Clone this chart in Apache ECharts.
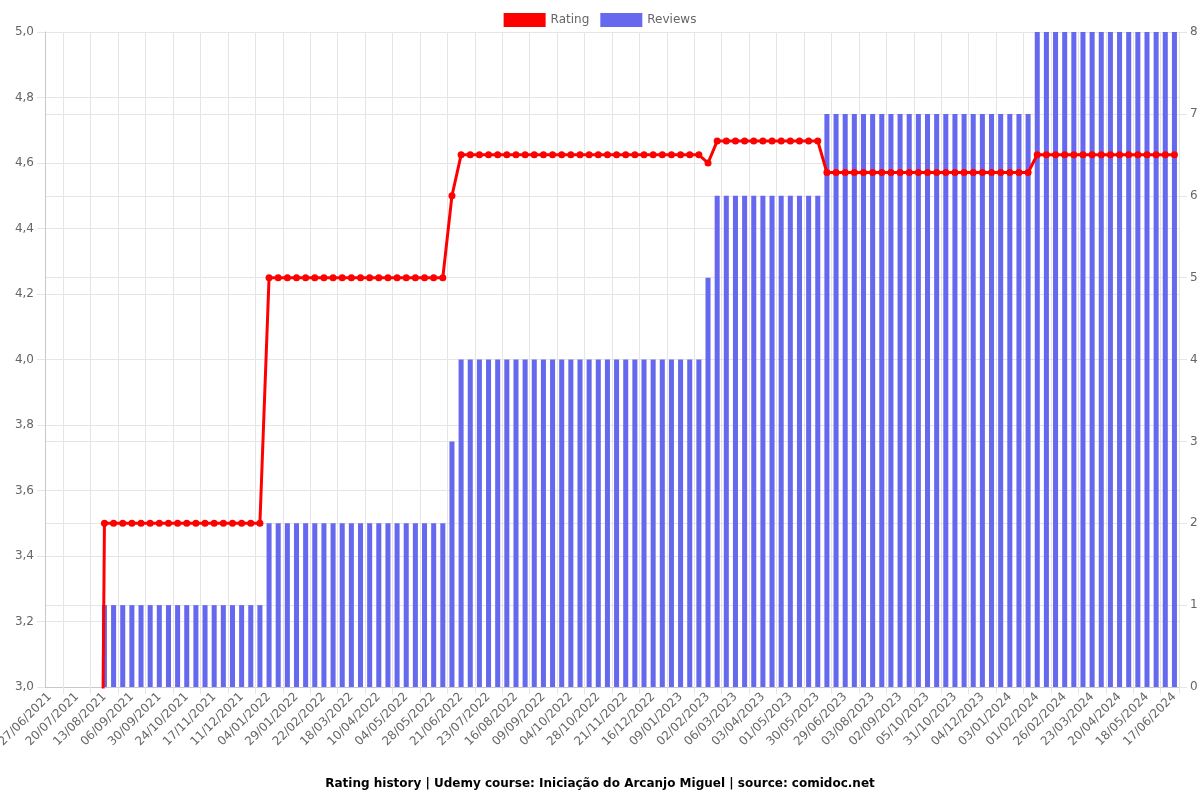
<!DOCTYPE html>
<html>
<head>
<meta charset="utf-8">
<script src="https://cdn.jsdelivr.net/npm/echarts@6/dist/echarts.min.js"></script>
<style>html,body{margin:0;padding:0;background:#fff}#c{width:1200px;height:800px}</style>
</head>
<body>
<div id="c"></div>
<script>
const dates = [
"27/06/2021","05/07/2021","12/07/2021","20/07/2021","28/07/2021","05/08/2021","13/08/2021","21/08/2021","29/08/2021","06/09/2021",
"14/09/2021","22/09/2021","30/09/2021","08/10/2021","16/10/2021","24/10/2021","01/11/2021","09/11/2021","17/11/2021","25/11/2021",
"03/12/2021","11/12/2021","19/12/2021","27/12/2021","04/01/2022","12/01/2022","21/01/2022","29/01/2022","06/02/2022","14/02/2022",
"22/02/2022","02/03/2022","10/03/2022","18/03/2022","26/03/2022","02/04/2022","10/04/2022","18/04/2022","26/04/2022","04/05/2022",
"12/05/2022","20/05/2022","28/05/2022","05/06/2022","13/06/2022","21/06/2022","01/07/2022","12/07/2022","23/07/2022","31/07/2022",
"08/08/2022","16/08/2022","24/08/2022","01/09/2022","09/09/2022","17/09/2022","26/09/2022","04/10/2022","12/10/2022","20/10/2022",
"28/10/2022","05/11/2022","13/11/2022","21/11/2022","29/11/2022","08/12/2022","16/12/2022","24/12/2022","01/01/2023","09/01/2023",
"17/01/2023","25/01/2023","02/02/2023","13/02/2023","24/02/2023","06/03/2023","15/03/2023","24/03/2023","03/04/2023","12/04/2023",
"21/04/2023","01/05/2023","10/05/2023","20/05/2023","30/05/2023","09/06/2023","19/06/2023","29/06/2023","11/07/2023","22/07/2023",
"03/08/2023","13/08/2023","23/08/2023","02/09/2023","13/09/2023","24/09/2023","05/10/2023","14/10/2023","22/10/2023","31/10/2023",
"11/11/2023","22/11/2023","04/12/2023","14/12/2023","24/12/2023","03/01/2024","13/01/2024","23/01/2024","01/02/2024","09/02/2024",
"17/02/2024","26/02/2024","05/03/2024","14/03/2024","23/03/2024","01/04/2024","10/04/2024","20/04/2024","29/04/2024","08/05/2024",
"18/05/2024","28/05/2024","07/06/2024","17/06/2024"
];

const rating = [
0,0,0,0,0,0,3.5,3.5,3.5,3.5,
3.5,3.5,3.5,3.5,3.5,3.5,3.5,3.5,3.5,3.5,
3.5,3.5,3.5,3.5,4.25,4.25,4.25,4.25,4.25,4.25,
4.25,4.25,4.25,4.25,4.25,4.25,4.25,4.25,4.25,4.25,
4.25,4.25,4.25,4.25,4.5,4.625,4.625,4.625,4.625,4.625,
4.625,4.625,4.625,4.625,4.625,4.625,4.625,4.625,4.625,4.625,
4.625,4.625,4.625,4.625,4.625,4.625,4.625,4.625,4.625,4.625,
4.625,4.625,4.6,4.667,4.667,4.667,4.667,4.667,4.667,4.667,
4.667,4.667,4.667,4.667,4.667,4.571,4.571,4.571,4.571,4.571,
4.571,4.571,4.571,4.571,4.571,4.571,4.571,4.571,4.571,4.571,
4.571,4.571,4.571,4.571,4.571,4.571,4.571,4.571,4.625,4.625,
4.625,4.625,4.625,4.625,4.625,4.625,4.625,4.625,4.625,4.625,
4.625,4.625,4.625,4.625
];

const reviews = [
0,0,0,0,0,0,1,1,1,1,
1,1,1,1,1,1,1,1,1,1,
1,1,1,1,2,2,2,2,2,2,
2,2,2,2,2,2,2,2,2,2,
2,2,2,2,3,4,4,4,4,4,
4,4,4,4,4,4,4,4,4,4,
4,4,4,4,4,4,4,4,4,4,
4,4,5,6,6,6,6,6,6,6,
6,6,6,6,6,7,7,7,7,7,
7,7,7,7,7,7,7,7,7,7,
7,7,7,7,7,7,7,7,8,8,
8,8,8,8,8,8,8,8,8,8,
8,8,8,8
];

const ratingTicks = { min: 3, max: 5, step: 0.2 };
const reviewTicks = { min: 0, max: 8, step: 1 };
const titleText = "Rating history | Udemy course: Iniciação do Arcanjo Miguel | source: comidoc.net";

const FONT = "DejaVu Sans";
const GRID = "#e5e5e5";
const RED = "#ff0000";
const BLUE = "#6669ee";

const chart = echarts.init(document.getElementById('c'), null, { renderer: 'canvas' });
chart.setOption({
  animation: false,
  textStyle: { fontFamily: FONT },
  title: {
    text: titleText,
    left: 'center',
    top: 773,
    textStyle: { fontFamily: FONT, fontSize: 12, fontWeight: 'bold', color: '#000' }
  },
  legend: {
    top: 8,
    left: 'center',
    itemWidth: 42,
    itemHeight: 14,
    itemGap: 11,
    textStyle: { fontFamily: FONT, fontSize: 12, color: '#666' },
    data: [
      { name: 'Rating', icon: 'rect', itemStyle: { color: RED } },
      { name: 'Reviews', icon: 'rect', itemStyle: { color: BLUE } }
    ]
  },
  grid: { left: 45, right: 21, top: 32, bottom: 113, containLabel: false, outerBoundsMode: 'none' },
  xAxis: {
    type: 'category',
    data: dates,
    boundaryGap: true,
    axisLine: { show: true, lineStyle: { color: '#c8c8c8' } },
    axisTick: { show: true, length: 7, interval: (i) => i % 3 === 2, lineStyle: { color: GRID } },
    splitLine: { show: true, interval: (i) => i % 3 === 2, lineStyle: { color: GRID } },
    axisLabel: {
      interval: 2,
      rotate: 45,
      margin: 8,
      fontSize: 12,
      color: '#666',
      fontFamily: FONT
    }
  },
  yAxis: [
    {
      type: 'value',
      position: 'left',
      min: ratingTicks.min,
      max: ratingTicks.max,
      interval: ratingTicks.step,
      axisLine: { show: true, lineStyle: { color: '#c8c8c8' } },
      axisTick: { show: true, length: 8, lineStyle: { color: GRID } },
      splitLine: { show: true, lineStyle: { color: GRID } },
      axisLabel: {
        margin: 11, fontSize: 12, color: '#666', fontFamily: FONT,
        formatter: (v) => v.toFixed(1).replace('.', ',')
      }
    },
    {
      type: 'value',
      position: 'right',
      min: reviewTicks.min,
      max: reviewTicks.max,
      interval: reviewTicks.step,
      axisLine: { show: true, lineStyle: { color: GRID } },
      axisTick: { show: true, length: 8, lineStyle: { color: GRID } },
      splitLine: { show: true, lineStyle: { color: GRID } },
      axisLabel: { margin: 11, fontSize: 12, color: '#666', fontFamily: FONT }
    }
  ],
  series: [
    {
      name: 'Rating',
      type: 'line',
      yAxisIndex: 0,
      data: rating,
      z: 5,
      clip: true,
      symbol: 'circle',
      symbolSize: 7,
      showAllSymbol: true,
      lineStyle: { color: RED, width: 3 },
      itemStyle: { color: RED }
    },
    {
      name: 'Reviews',
      type: 'bar',
      yAxisIndex: 1,
      data: reviews,
      z: 2,
      barWidth: '55%',
      itemStyle: { color: BLUE }
    }
  ]
});
</script>
</body>
</html>
